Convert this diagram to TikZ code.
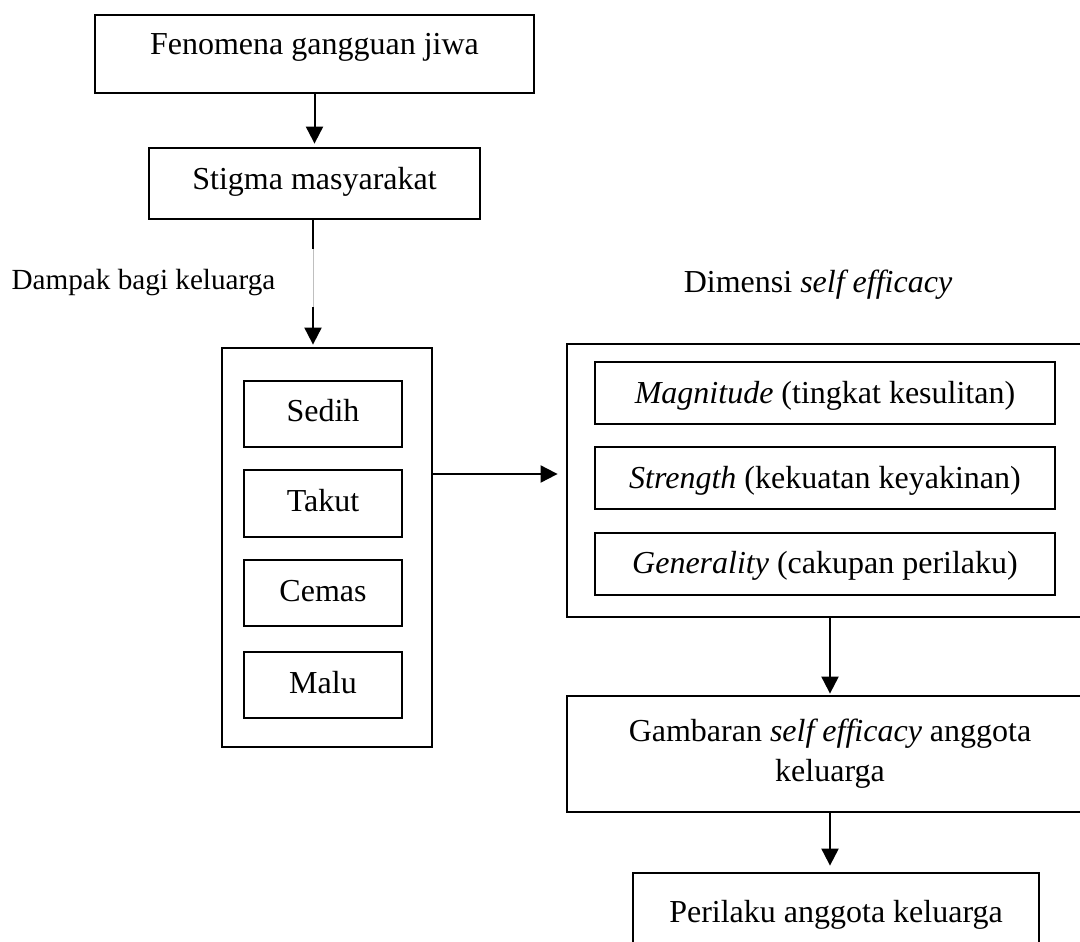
\documentclass[tikz,border=0pt]{standalone}
\usepackage{fontspec}
\setmainfont{Liberation Serif}
\usetikzlibrary{arrows.meta}
\begin{document}
\begin{tikzpicture}[x=0.5pt,y=-0.5pt,
  box/.style={draw,line width=1.4pt,inner sep=0pt,font=\fontsize{16}{20}\selectfont},
  arr/.style={line width=1pt,-{Triangle[length=8.5pt,width=8.5pt]}},
  lbl/.style={inner sep=0pt,anchor=base,font=\fontsize{16}{20}\selectfont}]
\useasboundingbox (0,0) rectangle (1080,941);
\clip (0,0) rectangle (1080,941);
% top chain
\node[box,minimum width=219.5pt,text height=20pt,text depth=19pt] (fen) at (314.5,54) {Fenomena gangguan jiwa};
\node[box,minimum width=165.5pt,text height=21pt,text depth=14.5pt] (stig) at (314.5,183.5) {Stigma masyarakat};
% left group
\node[box,minimum width=105pt,minimum height=199.5pt] (left) at (327,547.5) {};
\node[box,minimum width=79pt,text height=20pt,text depth=13pt] (sedih) at (323,414) {Sedih};
\node[box,minimum width=79pt,text height=20.5pt,text depth=13pt] (takut) at (323,503.5) {Takut};
\node[box,minimum width=79pt,text height=20.5pt,text depth=12.5pt] (cemas) at (323,593) {Cemas};
\node[box,minimum width=79pt,text height=20.5pt,text depth=12.5pt] (malu) at (323,685) {Malu};
% right group
\node[box,minimum width=263pt,minimum height=136.5pt] (right) at (830,480.5) {};
\node[box,minimum width=230pt,text height=20.5pt,text depth=10.5pt] (mag) at (825,393) {\textit{Magnitude} (tingkat kesulitan)};
\node[box,minimum width=230pt,text height=20.5pt,text depth=10.5pt] (str) at (825,478) {\textit{Strength} (kekuatan keyakinan)};
\node[box,minimum width=230pt,text height=20pt,text depth=11pt] (gen) at (825,564) {\textit{Generality} (cakupan perilaku)};
\node[box,minimum width=263pt,minimum height=58pt,align=center] (gam) at (830,754) {Gambaran \textit{self efficacy} anggota\\keluarga};
\node[box,minimum width=203pt,text height=24.5pt,text depth=24.5pt] (per) at (836,922) {Perilaku anggota keluarga};
% labels
\node[lbl,font=\fontsize{14.6}{18}\selectfont] (dampak) at (143.5,289) {Dampak bagi keluarga};
\node[lbl] (dim) at (818,292) {Dimensi \textit{self efficacy}};
% connectors
\draw[arr,shorten >=1.5pt] (fen.south) -- (stig.north);
\coordinate (g1) at (313,249);
\coordinate (g2) at (313,307);
\draw[line width=1pt] (stig.south -| g1) -- (g1);
\draw[gray!50,line width=0.4pt] (g1) -- (g2);
\draw[arr,shorten >=1pt] (g2) -- (g2 |- left.north);
\coordinate (ay) at (0,474);
\draw[arr,shorten >=4pt] (left.east |- ay) -- (right.west |- ay);
\draw[arr,shorten >=0.5pt] (right.south) -- (gam.north);
\draw[arr,shorten >=3pt] (gam.south) -- (per.north -| gam.south);
\end{tikzpicture}
\end{document}
